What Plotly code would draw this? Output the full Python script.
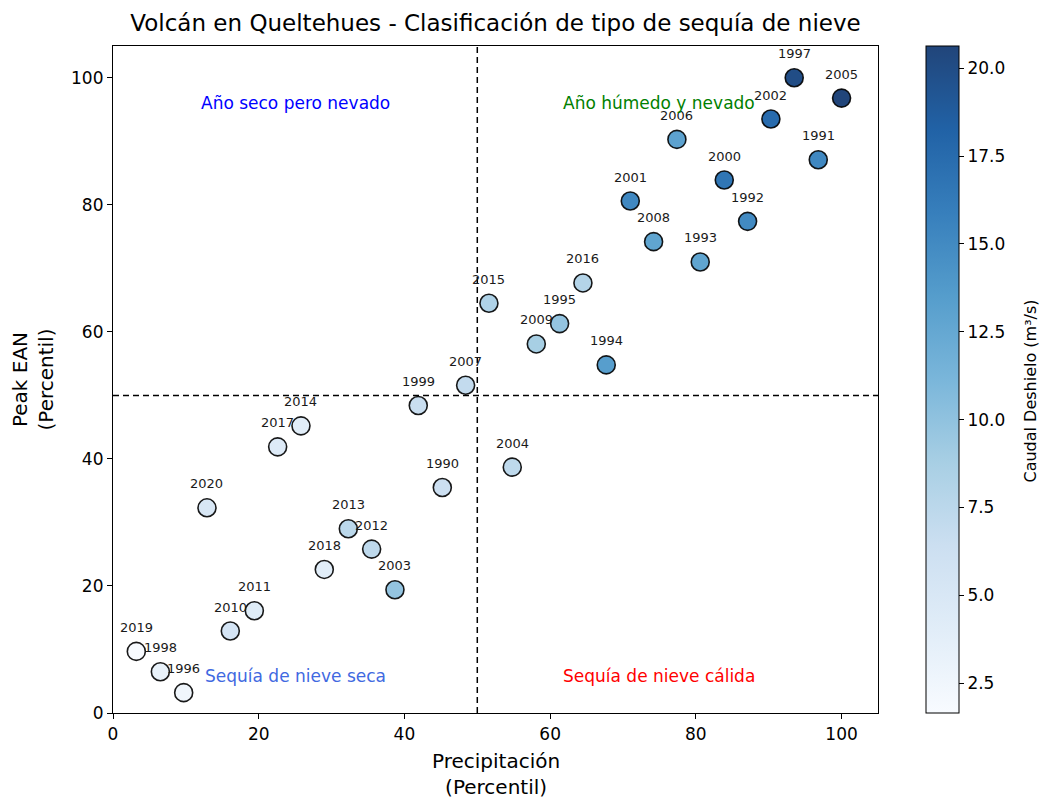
import plotly.graph_objects as go

# Hydrological years and their percentiles
years = [1990, 1991, 1992, 1993, 1994, 1995, 1996, 1997, 1998, 1999,
         2000, 2001, 2002, 2003, 2004, 2005, 2006, 2007, 2008, 2009,
         2010, 2011, 2012, 2013, 2014, 2015, 2016, 2017, 2018, 2019, 2020]

precip_pct = [45.2, 96.8, 87.1, 80.6, 67.7, 61.3, 9.7, 93.5, 6.5, 41.9,
              83.9, 71.0, 90.3, 38.7, 54.8, 100.0, 77.4, 48.4, 74.2, 58.1,
              16.1, 19.4, 35.5, 32.3, 25.8, 51.6, 64.5, 22.6, 29.0, 3.2, 12.9]

ean_pct = [35.5, 87.1, 77.4, 71.0, 54.8, 61.3, 3.2, 100.0, 6.5, 48.4,
           83.9, 80.6, 93.5, 19.4, 38.7, 96.8, 90.3, 51.6, 74.2, 58.1,
           12.9, 16.1, 25.8, 29.0, 45.2, 64.5, 67.7, 41.9, 22.6, 9.7, 32.3]

caudal = [6.4, 15.2, 15.0, 12.8, 13.4, 9.8, 2.5, 20.0, 3.2, 6.6,
          16.6, 15.2, 17.5, 9.8, 7.3, 20.63, 13.0, 7.0, 12.8, 8.8,
          5.5, 4.2, 7.3, 7.5, 4.0, 8.3, 8.0, 4.5, 4.0, 1.65, 5.0]

colorbar_ticks = [2.5, 5.0, 7.5, 10.0, 12.5, 15.0, 17.5, 20.0]

# Sequential blue palette, blended over white at 0.9 alpha
blues = ["#f7fbff", "#deebf7", "#c6dbef", "#9ecae1", "#6baed6",
         "#4292c6", "#2171b5", "#08519c", "#08306b"]


def blend(hex_color, alpha=0.9):
    r, g, b = (int(hex_color[i:i + 2], 16) for i in (1, 3, 5))
    mix = lambda c: round(alpha * c + (1 - alpha) * 255)
    return f"rgb({mix(r)},{mix(g)},{mix(b)})"


colorscale = [[i / (len(blues) - 1), blend(c)] for i, c in enumerate(blues)]

FONT = "DejaVu Sans"
W, H = 1040, 798
L, R, T, B = 113, 162, 46, 85
PLOT_W = W - L - R
PLOT_H = H - T - B

fig = go.Figure()

fig.add_trace(go.Scatter(
    x=precip_pct, y=ean_pct, mode="markers",
    marker=dict(
        size=18, color=caudal, colorscale=colorscale,
        cmin=min(caudal), cmax=max(caudal),
        line=dict(color="rgba(0,0,0,0.9)", width=1.6),
        colorbar=dict(
            x=(926 - L) / PLOT_W, xanchor="left", xpad=0, y=0, yanchor="bottom",
            len=1, lenmode="fraction", ypad=0,
            thickness=33, thicknessmode="pixels",
            outlinewidth=1, outlinecolor="black",
            tickmode="array",
            tickvals=colorbar_ticks,
            ticktext=[f"{v:.1f}" for v in colorbar_ticks],
            ticks="outside", ticklen=5, tickcolor="black",
            tickfont=dict(family=FONT, size=17, color="black"),
        ),
    ),
    showlegend=False, hoverinfo="skip",
))

# Year labels above each point
annotations = [
    dict(x=px, y=py, text=str(yr), showarrow=False, xref="x", yref="y",
         yanchor="middle", yshift=24,
         font=dict(family=FONT, size=13, color="#1a1a1a"))
    for px, py, yr in zip(precip_pct, ean_pct, years)
]

# Quadrant labels
quadrants = [
    (25, 96, "Año seco pero nevado", "blue"),
    (75, 96, "Año húmedo y nevado", "green"),
    (25, 5.8, "Sequía de nieve seca", "royalblue"),
    (75, 5.8, "Sequía de nieve cálida", "red"),
]
for qx, qy, qt, qc in quadrants:
    annotations.append(dict(x=qx, y=qy, text=qt, showarrow=False, xref="x", yref="y",
                            xanchor="center", yanchor="middle",
                            font=dict(family=FONT, size=17, color=qc)))

# Axis titles and colorbar title
annotations += [
    dict(x=0.5, y=-(774 - (H - B)) / PLOT_H, xref="paper", yref="paper",
         text="Precipitación<br>(Percentil)", showarrow=False,
         xanchor="center", yanchor="middle",
         font=dict(family=FONT, size=20, color="black")),
    dict(x=(32 - L) / PLOT_W, y=0.5, xref="paper", yref="paper",
         text="Peak EAN<br>(Percentil)", textangle=-90, showarrow=False,
         xanchor="center", yanchor="middle",
         font=dict(family=FONT, size=20, color="black")),
    dict(x=(1031 - L) / PLOT_W, y=0.482, xref="paper", yref="paper",
         text="Caudal Deshielo (m³/s)", textangle=-90, showarrow=False,
         xanchor="center", yanchor="middle",
         font=dict(family=FONT, size=16, color="black")),
]

# Median threshold lines
shapes = [
    dict(type="line", xref="x", yref="paper", x0=50, x1=50, y0=0, y1=1,
         line=dict(color="black", width=1.5, dash="6px,4px")),
    dict(type="line", xref="paper", yref="y", x0=0, x1=1, y0=50, y1=50,
         line=dict(color="black", width=1.5, dash="6px,4px")),
]

axis_common = dict(
    showgrid=False, zeroline=False, showline=True, linecolor="black", linewidth=1.2,
    mirror=True, ticks="outside", ticklen=5, tickcolor="black", automargin=False,
    tickfont=dict(family=FONT, size=17, color="black"),
)

fig.update_layout(
    width=W, height=H,
    margin=dict(l=L, r=R, t=T, b=B),
    paper_bgcolor="white", plot_bgcolor="white",
    title=dict(text="Volcán en Queltehues - Clasificación de tipo de sequía de nieve",
               x=(L + 878) / 2 / W, xanchor="center", y=1 - 23 / H, yanchor="middle",
               font=dict(family=FONT, size=23, color="black")),
    xaxis=dict(range=[0, 105], tickvals=[0, 20, 40, 60, 80, 100], **axis_common),
    yaxis=dict(range=[0, 105], tickvals=[0, 20, 40, 60, 80, 100], **axis_common),
    annotations=annotations,
    shapes=shapes,
)

fig.write_html("out.html")
